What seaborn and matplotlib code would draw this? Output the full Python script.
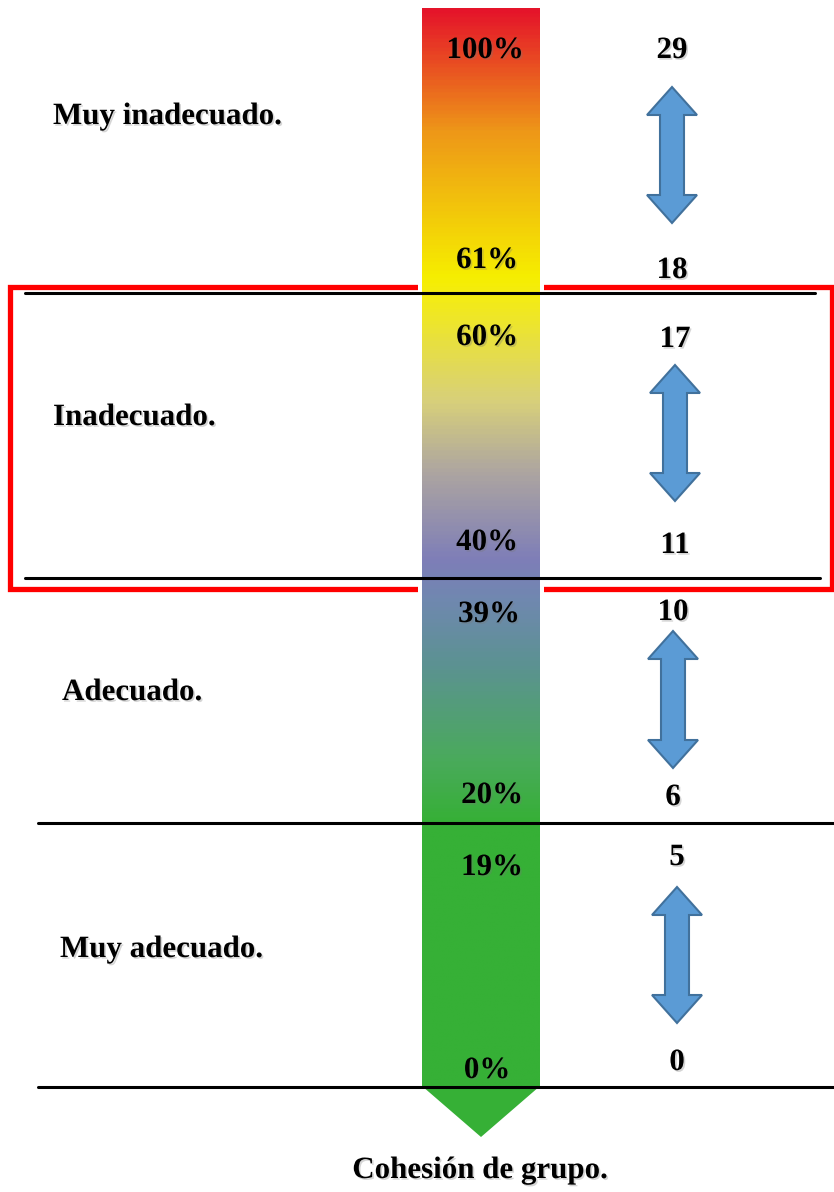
import numpy as np
import matplotlib
matplotlib.use("Agg")
import matplotlib.pyplot as plt
import matplotlib.patheffects as pe
from matplotlib.colors import LinearSegmentedColormap
from matplotlib.patches import Polygon, Rectangle
import seaborn as sns

# ---------------- data ----------------
categories = ["Muy inadecuado.", "Inadecuado.", "Adecuado.", "Muy adecuado."]
pct_high = [100, 60, 39, 19]
pct_low = [61, 40, 20, 0]
count_high = [29, 17, 10, 5]
count_low = [18, 11, 6, 0]
title = "Cohesión de grupo."

# ---------------- layout (pixel coords) ----------------
W, H = 834, 1192
bar_x0, bar_x1, bar_top, bar_bot, tip_y = 422, 540, 8, 1087, 1137
cat_x = [53, 53, 62, 60]
cat_y = [124, 425, 700, 957]
pct_hi_xy = [(485, 58), (487, 345), (489, 622), (492, 875)]
pct_lo_xy = [(487, 268), (487, 550), (492, 803), (487, 1078)]
cnt_hi_xy = [(672, 58), (675, 347), (673, 620), (677, 865)]
cnt_lo_xy = [(672, 278), (675, 553), (673, 805), (677, 1070)]
arrows = [(672, 87, 223), (675, 365, 501), (673, 631, 768), (677, 887, 1023)]
dividers = [(293, 25, 815), (578, 25, 820), (823, 38, 834), (1087, 38, 834)]

sns.set_theme(style="white")
plt.rcParams['font.family'] = ['Liberation Serif', 'DejaVu Serif']

fig = plt.figure(figsize=(W / 100, H / 100), dpi=100)
ax = fig.add_axes([0, 0, 1, 1])
ax.set_xlim(0, W)
ax.set_ylim(H, 0)
ax.axis("off")

# gradient bar
stops = [
    (8, "#e5142a"), (130, "#ee9818"), (275, "#f6ee00"), (300, "#f3eb18"),
    (400, "#d8d07a"), (470, "#aea6a0"), (560, "#7e7eb8"), (600, "#7088b0"),
    (665, "#5c9292"), (760, "#4aaa5c"), (823, "#36b036"), (1087, "#36b036"),
]
span = bar_bot - bar_top
cmap = LinearSegmentedColormap.from_list(
    "coh", [((y - bar_top) / span, c) for y, c in stops])
grad = np.linspace(0, 1, 600).reshape(-1, 1)

# red frame of "Inadecuado"
ax.add_patch(Rectangle((10, 287), 822, 302, fill=False, edgecolor="#ff0000",
                       lw=3.8, zorder=1))
ax.add_patch(Rectangle((bar_x0 - 4, 280), bar_x1 - bar_x0 + 8, 316,
                       facecolor="white", edgecolor="none", zorder=2))
ax.imshow(grad, cmap=cmap, aspect="auto",
          extent=[bar_x0, bar_x1, bar_bot, bar_top], zorder=3)
ax.add_patch(Polygon([(bar_x0, bar_bot - 1), (bar_x1, bar_bot - 1),
                      ((bar_x0 + bar_x1) / 2, tip_y)],
                     closed=True, facecolor="#36b036", edgecolor="none", zorder=3))

# divider lines
for y, x0, x1 in dividers:
    ax.plot([x0, x1], [y, y], color="black", lw=2.2, zorder=4)

# double arrows
hw_head, hw_shaft, head_len = 25, 12, 28
for cx, yt, yb in arrows:
    pts = [
        (cx, yt), (cx + hw_head, yt + head_len), (cx + hw_shaft, yt + head_len),
        (cx + hw_shaft, yb - head_len), (cx + hw_head, yb - head_len), (cx, yb),
        (cx - hw_head, yb - head_len), (cx - hw_shaft, yb - head_len),
        (cx - hw_shaft, yt + head_len), (cx - hw_head, yt + head_len),
    ]
    ax.add_patch(Polygon(pts, closed=True, facecolor="#5b9bd5",
                         edgecolor="#41719c", lw=1.5, zorder=5))

shadow = [pe.withSimplePatchShadow(offset=(1.2, -1.2), shadow_rgbFace="#777777",
                                   alpha=0.3)]
fs = 22.3
tkw = dict(fontsize=fs, fontweight="bold", color="black", va="baseline",
           zorder=6, path_effects=shadow)

for name, x, y in zip(categories, cat_x, cat_y):
    ax.text(x, y, name, ha="left", **tkw)
for v, (x, y) in zip(pct_high, pct_hi_xy):
    ax.text(x, y, f"{v}%", ha="center", **tkw)
for v, (x, y) in zip(pct_low, pct_lo_xy):
    ax.text(x, y, f"{v}%", ha="center", **tkw)
for v, (x, y) in zip(count_high, cnt_hi_xy):
    ax.text(x, y, f"{v}", ha="center", **tkw)
for v, (x, y) in zip(count_low, cnt_lo_xy):
    ax.text(x, y, f"{v}", ha="center", **tkw)

ax.text(480, 1178, title, ha="center", **tkw)

fig.savefig("out.png", dpi=100, facecolor="white")
